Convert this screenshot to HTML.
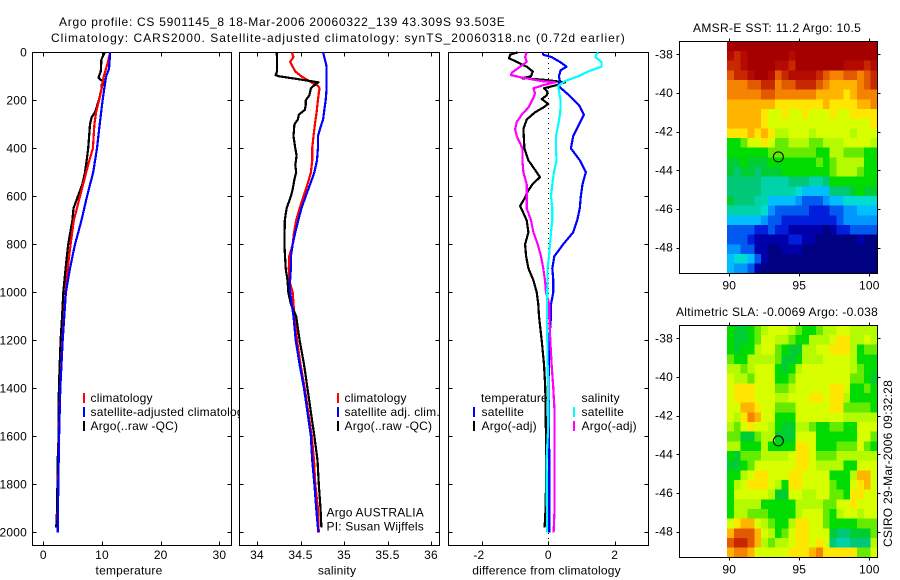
<!DOCTYPE html>
<html>
<head>
<meta charset="utf-8">
<title>Argo profile</title>
<style>
html,body{margin:0;padding:0;background:#fff;}
svg{display:block;}
text{font-family:"Liberation Sans",sans-serif;font-size:12px;fill:#000;letter-spacing:0.2px;}
</style>
</head>
<body>
<svg id="fig" xmlns="http://www.w3.org/2000/svg" width="900" height="580" viewBox="0 0 900 580">
<text x="59" y="26" textLength="446">Argo profile: CS 5901145_8 18-Mar-2006 20060322_139 43.309S 93.503E</text>
<text x="51" y="42" textLength="574">Climatology: CARS2000. Satellite-adjusted climatology: synTS_20060318.nc (0.72d earlier)</text>
<text x="693" y="32" textLength="168">AMSR-E SST: 11.2 Argo: 10.5</text>
<text x="676" y="316" textLength="202">Altimetric SLA: -0.0069 Argo: -0.038</text>
<text transform="translate(892,547) rotate(-90)" textLength="167">CSIRO 29-Mar-2006 09:32:28</text>
</svg>
<script>
// ---------- tick labels ----------
var depthTicks = [0,200,400,600,800,1000,1200,1400,1600,1800,2000];
var tempTicks = [0,10,20,30];
var salTicks = [34,34.5,35,35.5,36];
var diffTicks = [-2,0,2];
var lonTicks = [90,95,100];
var latTicks = [-38,-40,-42,-44,-46,-48];

// ---------- temperature panel ----------
var tempClimDepth = [0,50,100,150,200,250,300,400,450,500,600,700,800,900,1000,1200,1400,1600,1800,2000];
var tempClim = [11.4,10.9,10.3,9.95,9.5,9,8.7,8.45,7.85,7.3,6.25,5.2,4.65,4.15,3.8,3.25,2.88,2.68,2.53,2.43];
var tempSatDepth = [0,70,100,200,300,400,500,600,700,800,900,1000,1200,1400,1600,1800,2000];
var tempSat = [11.4,11.2,10.7,10.1,9.6,9.15,8.5,7.45,6.5,5.4,4.55,3.85,3.3,2.9,2.7,2.55,2.45];
var tempArgoDepth = [0,30,80,105,115,125,135,150,200,250,270,300,400,450,500,550,600,650,700,800,900,1000,1100,1200,1300,1400,1500,1600,1700,1800,1900,1950,1980];
var tempArgo = [10.5,9.9,9.8,9.4,9.8,10.5,9.9,9.95,9.45,8.8,8.25,7.95,7.65,7.4,7.1,6.65,5.9,5.15,4.95,4.25,3.8,3.4,3.2,2.95,2.8,2.65,2.6,2.6,2.45,2.4,2.35,2.27,2.2];

// ---------- salinity panel ----------
var salClimDepth = [0,20,40,60,80,100,120,140,150,170,200,250,300,350,400,450,500,550,600,650,700,750,800,850,900,950,1000,1050,1200,1300,1400,1600,1700,1800,1900,1950,2000];
var salClim = [34.40,34.42,34.38,34.41,34.44,34.51,34.60,34.70,34.72,34.71,34.70,34.685,34.665,34.65,34.635,34.635,34.62,34.58,34.535,34.49,34.45,34.425,34.41,34.37,34.365,34.37,34.41,34.42,34.46,34.50,34.55,34.63,34.655,34.67,34.70,34.705,34.71];
var salSatDepth = [0,30,60,100,150,200,250,280,300,350,400,450,500,550,600,650,700,750,800,850,900,950,1000,1050,1100,1200,1300,1400,1500,1600,1700,1800,1900,2000];
var salSat = [34.76,34.78,34.80,34.80,34.80,34.79,34.77,34.76,34.74,34.70,34.70,34.69,34.66,34.61,34.56,34.51,34.475,34.44,34.41,34.39,34.39,34.38,34.38,34.40,34.42,34.445,34.49,34.54,34.58,34.62,34.635,34.66,34.68,34.705];
var salArgoDepth = [0,20,80,95,100,110,125,135,150,165,180,200,220,240,260,280,300,350,400,430,470,500,530,570,600,650,700,800,900,950,1000,1050,1100,1200,1300,1400,1500,1600,1700,1800,1900,1980];
var salArgo = [34.225,34.23,34.23,34.215,34.255,34.44,34.705,34.665,34.62,34.61,34.60,34.56,34.56,34.55,34.48,34.47,34.43,34.42,34.44,34.455,34.44,34.45,34.43,34.41,34.39,34.34,34.32,34.315,34.33,34.35,34.36,34.39,34.45,34.49,34.54,34.58,34.62,34.66,34.695,34.71,34.73,34.74];

// ---------- difference panel ----------
var diffTempSatDepth = [0,10,20,40,60,75,100,120,140,170,200,225,260,300,350,400,450,500,550,600,650,700,750,800,850,900,950,1000,1050,1100,1200,1300,1400,1500,1600,1700,1800,2000];
var diffTempSat = [-0.17,-0.15,0.1,0.35,0.55,0.37,0.32,0.35,0.3,0.55,0.78,0.95,1.07,0.93,0.75,0.68,0.95,1.13,1.03,0.98,0.95,0.87,0.75,0.45,0.18,0.12,0.15,0.15,0.08,0.08,0.03,0.02,0,0.02,0.02,0.03,0.03,0.03];
var diffTempArgoDepth = [0,10,25,40,60,80,100,108,115,125,135,150,165,180,195,215,230,250,280,320,400,450,480,520,550,580,610,640,700,750,800,850,900,950,1000,1050,1100,1200,1300,1400,1500,1600,1700,1800,1900,1980];
var diffTempArgo = [-0.92,-1.15,-1.18,-0.95,-0.65,-0.47,-0.52,-0.78,-0.1,0.5,0.3,-0.13,-0.02,-0.05,-0.2,0,-0.15,-0.4,-0.65,-0.75,-0.72,-0.6,-0.45,-0.25,-0.48,-0.62,-0.72,-0.85,-0.65,-0.6,-0.7,-0.67,-0.6,-0.45,-0.35,-0.3,-0.28,-0.2,-0.13,-0.09,-0.08,-0.07,-0.07,-0.07,-0.08,-0.11];
var diffSalSatDepth = [0,10,20,40,60,80,100,120,140,170,200,250,300,350,400,450,500,550,600,650,700,750,800,850,900,1000,1050,1100,1500,1550,1700,2000];
var diffSalSat = [1.5,1.45,1.42,1.6,1.6,1.2,0.9,0.5,0.3,0.33,0.37,0.36,0.3,0.23,0.23,0.25,0.17,0.12,0.08,0.12,0.12,0.08,0.05,0.02,-0.02,-0.03,-0.04,-0.04,0,0,-0.05,-0.04];
var diffSalArgoDepth = [0,20,40,60,85,95,105,120,125,135,150,170,190,210,230,260,290,320,350,400,450,500,550,600,650,700,750,800,850,900,950,1000,1050,1100,1200,1300,1400,1500,1600,1800,1900,2000];
var diffSalArgo = [-0.65,-0.7,-0.65,-0.85,-1.1,-1.12,-0.8,-0.2,0.2,-0.1,-0.45,-0.4,-0.45,-0.52,-0.6,-0.8,-0.95,-1,-0.95,-0.78,-0.78,-0.75,-0.65,-0.65,-0.65,-0.52,-0.45,-0.32,-0.22,-0.15,-0.1,-0.07,0.03,0.03,0.06,0.1,0.15,0.19,0.19,0.19,0.19,0.16];

// ---------- maps: colour-level value of each cell, north to south ----------
var sstGrid = [
[20,20,20,20,20,20,20,20,20,20,20,20,20,20,20,20,20,20,20,20,20,20],
[19,18,19,20,20,20,20,20,20,19,20,20,20,20,20,20,20,20,20,20,20,20],
[18,18,19,20,20,20,20,19,19,18,20,20,20,20,20,20,20,19,19,19,18,19],
[17,18,18,19,20,20,19,17,18,19,19,19,19,18,17,16,16,17,17,16,17,18],
[16,16,16,17,17,18,18,16,17,17,18,18,18,17,16,15,15,15,15,16,17,18],
[16,16,16,16,16,17,17,16,16,16,16,16,16,15,15,15,15,14,15,16,16,16],
[15,15,15,15,15,15,15,14,14,14,14,14,14,14,15,14,14,14,14,15,15,16],
[15,15,15,15,15,14,13,13,14,13,13,14,13,13,13,14,13,13,14,14,14,14],
[15,15,15,15,15,14,13,13,13,13,13,13,13,13,13,13,13,13,13,13,13,14],
[14,14,14,15,14,15,14,12,12,13,13,13,12,13,13,13,13,13,12,13,13,13],
[10,10,11,13,13,14,13,11,11,12,12,12,11,11,12,12,12,13,13,13,13,12],
[10,10,10,10,10,10,11,11,11,11,11,11,11,10,10,12,12,11,11,11,10,10],
[9,9,10,9,9,9,10,10,10,10,10,10,10,11,10,11,12,12,12,12,10,10],
[9,8,9,9,8,9,9,9,10,10,10,10,10,10,10,11,12,12,12,11,10,10],
[8,8,8,8,8,7,7,7,7,8,8,8,7,7,8,10,10,10,10,10,10,10],
[8,8,8,8,8,7,7,7,7,7,6,5,5,5,5,8,8,8,9,10,9,9],
[9,8,8,8,7,7,5,5,5,5,4,3,3,3,4,5,5,6,6,6,6,6],
[7,7,7,7,7,6,4,3,3,3,3,3,2,2,2,3,3,4,4,5,5,5],
[5,5,5,5,5,4,3,3,2,2,2,2,2,2,2,2,3,4,4,4,4,4],
[3,3,3,3,2,2,3,2,2,1,1,1,1,1,0,1,2,2,3,3,3,3],
[3,3,3,2,1,1,1,1,1,2,2,1,1,0,0,0,0,0,0,1,0,0],
[4,4,3,3,1,1,0,0,1,1,1,0,0,0,0,0,0,0,0,0,0,0],
[5,6,6,5,3,1,0,0,0,0,0,0,0,0,0,0,0,0,0,0,0,0],
[5,4,4,3,1,0,0,0,0,0,0,0,0,0,0,0,0,0,0,0,0,0]
];
var slaGrid = [
[10,9,9,10,11,12,13,13,13,12,11,10,10,11,12,12,13,13,12,12,12,12],
[10,9,9,10,11,13,13,12,12,11,10,10,12,12,12,13,14,14,12,12,13,12],
[10,9,10,10,12,13,13,11,10,9,9,12,12,13,13,14,14,14,12,10,11,11],
[11,10,10,12,12,12,12,11,9,9,10,12,12,12,13,13,13,13,12,10,10,10],
[12,12,11,12,13,13,13,10,9,10,12,13,13,13,13,13,13,13,12,11,10,10],
[13,12,12,11,13,13,13,10,10,11,13,13,13,13,13,13,13,13,11,11,10,9],
[13,14,14,14,13,13,13,11,11,12,13,13,13,13,13,14,14,13,10,10,11,10],
[13,14,14,14,13,13,13,12,12,13,13,13,14,14,13,14,14,12,10,10,10,10],
[13,13,15,15,14,13,13,11,11,11,13,13,13,13,13,14,14,11,11,11,11,10],
[13,12,14,16,15,13,13,10,10,10,13,13,13,13,13,13,13,12,12,12,12,12],
[12,11,13,14,13,13,12,10,9,9,12,12,11,10,10,11,11,10,10,13,13,13],
[11,11,9,9,11,12,12,9,9,9,13,13,13,10,10,10,10,10,10,13,13,11],
[12,12,10,10,10,12,10,10,10,10,14,14,13,10,10,10,11,11,11,13,11,10],
[10,9,11,11,11,12,12,12,12,13,14,14,13,11,11,11,12,12,12,12,12,12],
[9,9,10,11,13,13,13,13,13,13,14,14,13,12,12,12,12,10,10,13,13,13],
[10,10,12,13,14,14,13,13,13,14,14,13,13,13,13,10,10,10,12,15,15,13],
[10,12,13,14,14,14,13,12,10,14,14,13,13,13,13,11,10,10,13,14,15,13],
[10,13,13,13,13,13,12,9,9,13,13,12,12,13,13,11,11,10,14,14,13,13],
[10,12,12,12,12,10,10,10,10,10,12,12,12,12,11,11,13,13,14,13,13,13],
[10,12,12,11,11,11,10,10,10,10,12,13,13,13,11,10,12,13,13,12,13,13],
[13,14,15,15,13,12,11,10,10,12,14,14,13,13,11,10,10,10,10,11,11,11],
[15,17,17,17,15,13,12,10,11,13,14,14,13,13,13,9,8,8,9,9,9,11],
[17,18,18,17,15,12,11,12,12,13,14,14,13,14,13,8,7,7,8,8,8,12],
[15,16,16,15,13,13,13,13,13,14,14,14,15,16,14,14,14,14,14,11,11,13]
];
var floatLon = 93.503;
var floatLat = -43.309;

var colormap = ['#000082','#0000aa','#001edc','#005af0','#0096ff','#00beff','#00dcd2','#00d2aa','#00c878','#00cd32','#00dc00','#64eb00','#b4fa00','#d7ff00','#ffe600','#ffb400','#f58200','#e15a00','#c82800','#b40a00','#a50000'];

// ---------- helpers ----------
var svg = document.getElementById('fig');
var NS = 'http://www.w3.org/2000/svg';
function make(tag, props, parent) {
  var e = document.createElementNS(NS, tag);
  for (var k in props) e.setAttribute(k, props[k]);
  (parent || svg).appendChild(e);
  return e;
}
function label(str, x, y, anchor, parent) {
  var t = make('text', {x: x, y: y, 'text-anchor': anchor || 'start'}, parent);
  t.textContent = str;
  return t;
}
function drawSeries(values, depths, xf, colour, name) {
  var d = '';
  for (var i = 0; i < values.length; i++) {
    d += (i ? 'L' : 'M') + xf(values[i]).toFixed(1) + ' ' + yDepth(depths[i]).toFixed(1);
  }
  var p = make('path', {d: d, fill: 'none', stroke: colour, 'stroke-width': 2.2, 'stroke-linejoin': 'round', 'shape-rendering': 'crispEdges'});
  
  
}
function yDepth(d) { return 52.3 + d * 0.24; }
function xTemp(v) { return 43.3 + v * 5.87; }
function xSal(v) { return 257 + (v - 34) * 87; }
function xDiff(v) { return 548.3 + v * 33.2; }

// ---------- profile panels ----------
function drawPanel(left, width, xf, ticks, axisName, axisLabel, labelX, showDepth) {
  var top = 52.5, bottom = 545.5, right = left + width;
  var bg = make('rect', {x: left, y: top, width: width, height: bottom - top, fill: '#fff'});
  
  
  var box = make('rect', {x: left, y: top, width: width, height: bottom - top, fill: 'none', stroke: '#000', 'stroke-width': 1, 'shape-rendering': 'crispEdges'});
  
  
  var i, px, py, tk, lb;
  for (i = 0; i < ticks.length; i++) {
    px = Math.round(xf(ticks[i])) + 0.5;
    tk = make('path', {d: 'M' + px + ' ' + top + 'v4M' + px + ' ' + bottom + 'v-4', stroke: '#000', 'shape-rendering': 'crispEdges'});
    
    
    lb = label(String(ticks[i]), xf(ticks[i]) - (ticks[i] < 0 ? 3 : 0), 559, 'middle');
    
    
  }
  for (i = 0; i < depthTicks.length; i++) {
    py = Math.round(yDepth(depthTicks[i])) + 0.5;
    tk = make('path', {d: 'M' + left + ' ' + py + 'h4M' + right + ' ' + py + 'h-4', stroke: '#000', 'shape-rendering': 'crispEdges'});
    
    
    if (showDepth) {
      lb = label(String(depthTicks[i]), 27, yDepth(depthTicks[i]) + 4, 'end');
      
      
    }
  }
  lb = label(axisLabel, labelX, 574.5, 'middle');
  
  
}
function legendEntry(barX, textX, y, colour, text, name) {
  if (colour) {
    var b = make('rect', {x: barX, y: y - 5, width: 2, height: 10, fill: colour, 'shape-rendering': 'crispEdges'});
    
    
  }
  var t = label(text, textX, y + 4);
  
  
}

// temperature
drawPanel(32.5, 199, xTemp, tempTicks, 'temperature', 'temperature', 129, true);
legendEntry(83, 90.5, 398, '#ff0000', 'climatology', 'legend-temp-climatology');
legendEntry(83, 90.5, 412, '#0000ff', 'satellite-adjusted climatology', 'legend-temp-satellite');
legendEntry(83, 90.5, 426, '#000000', 'Argo(..raw -QC)', 'legend-temp-argo');
drawSeries(tempArgo, tempArgoDepth, xTemp, '#000', 'temperature-argo-line');
drawSeries(tempClim, tempClimDepth, xTemp, '#f00', 'temperature-climatology-line');
drawSeries(tempSat, tempSatDepth, xTemp, '#00f', 'temperature-satellite-line');

// salinity
drawPanel(239.5, 200, xSal, salTicks, 'salinity', 'salinity', 337, false);
legendEntry(337, 344.5, 398, '#ff0000', 'climatology', 'legend-sal-climatology');
legendEntry(337, 344.5, 412, '#0000ff', 'satellite adj. clim.', 'legend-sal-satellite');
legendEntry(337, 344.5, 426, '#000000', 'Argo(..raw -QC)', 'legend-sal-argo');
legendEntry(0, 326.5, 512.5, null, 'Argo AUSTRALIA', 'argo-country-note');
legendEntry(0, 326.5, 526.5, null, 'PI: Susan Wijffels', 'pi-note');
drawSeries(salClim, salClimDepth, xSal, '#f00', 'salinity-climatology-line');
drawSeries(salArgo, salArgoDepth, xSal, '#000', 'salinity-argo-line');
drawSeries(salSat, salSatDepth, xSal, '#00f', 'salinity-satellite-line');

// difference
drawPanel(448.5, 200, xDiff, diffTicks, 'difference', 'difference from climatology', 546.5, false);
legendEntry(0, 481, 398, null, 'temperature', 'legend-diff-temperature-heading');
legendEntry(473, 481.5, 412, '#0000ff', 'satellite', 'legend-diff-temp-satellite');
legendEntry(473, 481.5, 426, '#000000', 'Argo(-adj)', 'legend-diff-temp-argo');
legendEntry(0, 581.5, 398, null, 'salinity', 'legend-diff-salinity-heading');
legendEntry(573, 581.5, 412, '#00ffff', 'satellite', 'legend-diff-sal-satellite');
legendEntry(573, 581.5, 426, '#ff00ff', 'Argo(-adj)', 'legend-diff-sal-argo');
var zeroLine = make('line', {x1: xDiff(0), y1: 53, x2: xDiff(0), y2: 545, stroke: '#000', 'stroke-width': 1, 'stroke-dasharray': '1 4', 'shape-rendering': 'crispEdges'});


drawSeries(diffTempArgo, diffTempArgoDepth, xDiff, '#000', 'difference-temp-argo-line');
drawSeries(diffTempSat, diffTempSatDepth, xDiff, '#00f', 'difference-temp-satellite-line');
drawSeries(diffSalArgo, diffSalArgoDepth, xDiff, '#f0f', 'difference-sal-argo-line');
drawSeries(diffSalSat, diffSalSatDepth, xDiff, '#0ff', 'difference-sal-satellite-line');

// ---------- maps ----------
function drawMap(grid, top, name) {
  var left = 679.5, right = 877.5, bottom = top + 232;
  function xLon(v) { return 729.3 + (v - 90) * 14; }
  function yLat(v) { return top + 12.8 + (-38 - v) * 19.33; }
  var lonStart = 89.84, lonStep = 0.4882, latStart = -37.33, latStep = 0.5;
  for (var r = 0; r < grid.length; r++) {
    for (var c = 0; c < grid[r].length; c++) {
      var x0 = xLon(lonStart + c * lonStep), x1 = xLon(lonStart + (c + 1) * lonStep);
      var y0 = yLat(latStart - r * latStep), y1 = yLat(latStart - (r + 1) * latStep);
      var cell = make('rect', {x: x0.toFixed(2), y: y0.toFixed(2), width: (x1 - x0 + 0.4).toFixed(2), height: (y1 - y0 + 0.4).toFixed(2), fill: colormap[grid[r][c]], 'shape-rendering': 'crispEdges'});
      
      
    }
  }
  var box = make('rect', {x: left, y: top, width: right - left, height: bottom - top, fill: 'none', stroke: '#000', 'stroke-width': 1, 'shape-rendering': 'crispEdges'});
  
  
  var i, px, py, tk, lb;
  for (i = 0; i < lonTicks.length; i++) {
    px = Math.round(xLon(lonTicks[i])) + 0.5;
    tk = make('path', {d: 'M' + px + ' ' + top + 'v-3M' + px + ' ' + bottom + 'v3', stroke: '#000', 'shape-rendering': 'crispEdges'});
    
    
    lb = label(String(lonTicks[i]), xLon(lonTicks[i]), bottom + 16, 'middle');
    
    
  }
  for (i = 0; i < latTicks.length; i++) {
    py = Math.round(yLat(latTicks[i])) + 0.5;
    tk = make('path', {d: 'M' + left + ' ' + py + 'h-3M' + right + ' ' + py + 'h3', stroke: '#000', 'shape-rendering': 'crispEdges'});
    
    
    lb = label(String(latTicks[i]), 673, yLat(latTicks[i]) + 4, 'end');
    
    
  }
  var marker = make('circle', {cx: xLon(floatLon), cy: yLat(floatLat), r: 5, fill: 'none', stroke: '#000', 'stroke-width': 1});
  
  
}
drawMap(sstGrid, 41.5, 'sst-map');
drawMap(slaGrid, 325.5, 'sla-map');
</script>
</body>
</html>
